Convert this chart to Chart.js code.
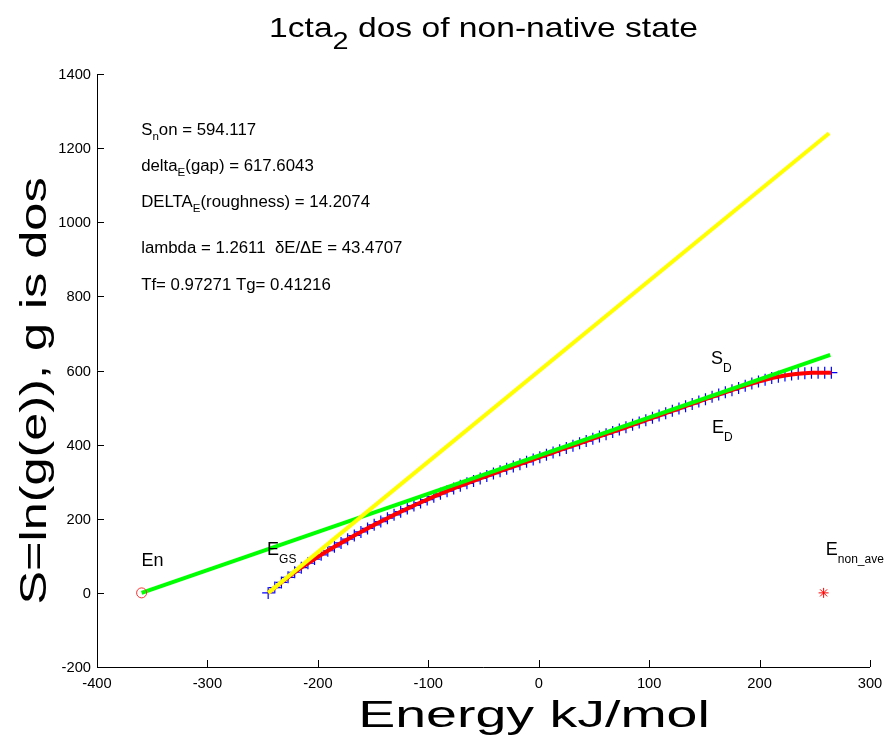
<!DOCTYPE html>
<html>
<head>
<meta charset="utf-8">
<title>1cta2 dos of non-native state</title>
<script src="https://cdn.jsdelivr.net/npm/chart.js@4.4.1/dist/chart.umd.min.js"></script>
<style>
  html, body { margin: 0; padding: 0; background: #fff; }
  #wrap { width: 885px; height: 735px; }
</style>
</head>
<body>
<div id="wrap"><canvas id="dos" width="885" height="735"></canvas></div>
<script>
// energy bins (kJ/mol) and S = ln(g(E)) for each bin
const energy = [
  -245, -239, -233, -227, -221, -215, -209, -203, -197, -191,
  -185, -179, -173, -167, -161, -155, -149, -143, -137, -131,
  -125, -119, -113, -107, -101, -95, -89, -83, -77, -71,
  -65, -59, -53, -47, -41, -35, -29, -23, -17, -11,
  -5, 1, 7, 13, 19, 25, 31, 37, 43, 49,
  55, 61, 67, 73, 79, 85, 91, 97, 103, 109,
  115, 121, 127, 133, 139, 145, 151, 157, 163, 169,
  175, 181, 187, 193, 199, 205, 211, 217, 223, 229,
  235, 241, 247, 253, 259, 265
];
const entropy = [
  0, 14.3, 28.1, 41.9, 55.7, 68, 79.9, 91.3, 102.6, 113.7,
  124.3, 134.7, 144.9, 154.8, 164.4, 174, 183.5, 192.5, 201.5, 210.5,
  219, 227.4, 235.8, 243.9, 251.7, 259.5, 267.2, 274.4, 281.6, 288.8,
  295.5, 302.1, 308.7, 315.3, 321.9, 328.3, 334.6, 340.9, 347.2, 353.5,
  359.8, 366.1, 372.4, 378.7, 384.9, 391, 397.1, 403.4, 409.7, 415.9,
  422, 428.1, 434.4, 440.7, 446.9, 453.3, 459.6, 465.9, 472.2, 478.5,
  484.8, 491.1, 497.4, 503.7, 509.9, 516.3, 522.6, 528.9, 535, 541,
  547, 553, 559, 564.7, 570.1, 575, 579.6, 583.2, 586.4, 589.1,
  591, 592.7, 593.6, 594, 594.1, 594.117
];

// fit results
const sNon = 594.117;
const deltaGap = 617.6043;
const deltaRough = 14.2074;
const lambda = 1.2611;
const dERatio = 43.4707;
const tf = 0.97271;
const tg = 0.41216;

// reference energies
const eNonAve = 258;
const eNative = eNonAve - deltaGap;

// tangent at the ground state (yellow) and line from the native state (green)
const gsLineE = [-245, 263];
const gsLineS = [0, 1240];
const nativeLineE = [eNative, 264];
const nativeLineS = [0, 642];

// axis ticks
const xTicks = [-400, -300, -200, -100, 0, 100, 200, 300];
const yTicks = [-200, 0, 200, 400, 600, 800, 1000, 1200, 1400];

const pts = (xs, ys) => xs.map((x, i) => ({ x: x, y: ys[i] }));

const FONT = '"Liberation Sans", Arial, Helvetica, sans-serif';

// draw text made of normal and subscript runs, optionally stretched horizontally
function richText(ctx, parts, x, y, size, subSize, drop, sx, align) {
  ctx.save();
  let w = 0;
  for (const p of parts) {
    ctx.font = (p[1] ? subSize : size) + 'px ' + FONT;
    w += ctx.measureText(p[0]).width;
  }
  ctx.translate(x, y);
  ctx.scale(sx, 1);
  let cx = align === 'center' ? -w / 2 : (align === 'right' ? -w : 0);
  ctx.textAlign = 'left';
  ctx.textBaseline = 'alphabetic';
  ctx.fillStyle = '#000';
  for (const p of parts) {
    ctx.font = (p[1] ? subSize : size) + 'px ' + FONT;
    ctx.fillText(p[0], cx, p[1] ? drop : 0);
    cx += ctx.measureText(p[0]).width;
  }
  ctx.restore();
}

const statLines = [
  [[['S'], ['n', 1], ['on = ' + sNon]], 1236],
  [[['delta'], ['E', 1], ['(gap) = ' + deltaGap]], 1139],
  [[['DELTA'], ['E', 1], ['(roughness) = ' + deltaRough]], 1042],
  [[['lambda = ' + lambda + '  \u03b4E/\u0394E = ' + dERatio]], 918],
  [[['Tf= ' + tf + ' Tg= ' + tg]], 818]
];

const markLabels = [
  [[['En']], eNative, 73],
  [[['E'], ['GS', 1]], -246, 103],
  [[['S'], ['D', 1]], 156, 618],
  [[['E'], ['D', 1]], 157, 432],
  [[['E'], ['non_ave', 1]], 260, 103]
];

const decorations = {
  id: 'decorations',
  beforeDraw(chart) {
    const ctx = chart.ctx;
    ctx.save();
    ctx.fillStyle = '#fff';
    ctx.fillRect(0, 0, chart.width, chart.height);
    ctx.restore();
  },
  afterDraw(chart) {
    const ctx = chart.ctx;
    const a = chart.chartArea;
    const xs = chart.scales.x, ys = chart.scales.y;

    // axes lines with inward ticks
    ctx.save();
    ctx.strokeStyle = '#000';
    ctx.lineWidth = 1;
    ctx.beginPath();
    ctx.moveTo(a.left + 0.5, a.top);
    ctx.lineTo(a.left + 0.5, a.bottom + 0.5);
    ctx.lineTo(a.right, a.bottom + 0.5);
    for (const v of xTicks) {
      const px = Math.round(xs.getPixelForValue(v)) + 0.5;
      ctx.moveTo(px, a.bottom);
      ctx.lineTo(px, a.bottom - 7);
    }
    for (const v of yTicks) {
      const py = Math.round(ys.getPixelForValue(v)) + 0.5;
      ctx.moveTo(a.left, py);
      ctx.lineTo(a.left + 7, py);
    }
    ctx.stroke();

    // tick labels
    for (const v of xTicks) {
      richText(ctx, [[String(v)]], xs.getPixelForValue(v), a.bottom + 21, 14, 10, 0, 1.05, 'center');
    }
    for (const v of yTicks) {
      richText(ctx, [[String(v)]], a.left - 6, ys.getPixelForValue(v) + 5, 14, 10, 0, 1.05, 'right');
    }

    // title
    richText(ctx, [['1cta'], ['2', 1], [' dos of non-native state']],
      (a.left + a.right) / 2, 37, 28, 24, 12, 1.2, 'center');

    // axis titles
    richText(ctx, [['Energy kJ/mol']], 534, 727, 37, 20, 0, 1.5, 'center');
    ctx.save();
    ctx.translate(46, 391);
    ctx.rotate(-Math.PI / 2);
    richText(ctx, [['S=ln(g(e)), g is dos']], 0, 0, 36, 20, 0, 1.4, 'center');
    ctx.restore();

    // fit summary
    for (const [parts, yv] of statLines) {
      richText(ctx, parts, xs.getPixelForValue(-360), ys.getPixelForValue(yv), 16, 11, 5, 1.05, 'left');
    }
    // state labels
    for (const [parts, xv, yv] of markLabels) {
      richText(ctx, parts, xs.getPixelForValue(xv), ys.getPixelForValue(yv), 18, 12, 8, 1.0, 'left');
    }
    ctx.restore();
  }
};

new Chart(document.getElementById('dos'), {
  type: 'scatter',
  data: {
    datasets: [
      {
        label: 'GS tangent',
        data: pts(gsLineE, gsLineS),
        showLine: true,
        borderColor: '#ffff00',
        borderWidth: 4,
        pointRadius: 0,
        order: 0
      },
      {
        label: 'En',
        data: [{ x: eNative, y: 0 }],
        pointStyle: 'circle',
        pointRadius: 5,
        borderColor: '#ff3030',
        backgroundColor: 'rgba(0,0,0,0)',
        borderWidth: 1,
        order: 1
      },
      {
        label: 'native line',
        data: pts(nativeLineE, nativeLineS),
        showLine: true,
        borderColor: '#00ff00',
        borderWidth: 4,
        pointRadius: 0,
        order: 2
      },
      {
        label: 'S(E)',
        data: pts(energy, entropy),
        showLine: true,
        borderColor: '#ff0000',
        borderWidth: 4,
        pointRadius: 0,
        order: 3
      },
      {
        label: 'bins',
        data: pts(energy, entropy),
        showLine: false,
        pointStyle: 'cross',
        pointRadius: 6,
        borderColor: '#0000ff',
        borderWidth: 1.2,
        order: 4
      },
      {
        label: 'E non ave',
        data: [{ x: eNonAve, y: 0 }],
        pointStyle: 'star',
        pointRadius: 5,
        borderColor: '#ff0000',
        borderWidth: 1,
        order: 0
      }
    ]
  },
  options: {
    responsive: false,
    animation: false,
    layout: { padding: { left: 97, top: 74, right: 15, bottom: 68 } },
    plugins: {
      legend: { display: false },
      title: { display: false },
      tooltip: { enabled: false }
    },
    scales: {
      x: { type: 'linear', min: -400, max: 300, display: false },
      y: { type: 'linear', min: -200, max: 1400, display: false }
    }
  },
  plugins: [decorations]
});
</script>
</body>
</html>
